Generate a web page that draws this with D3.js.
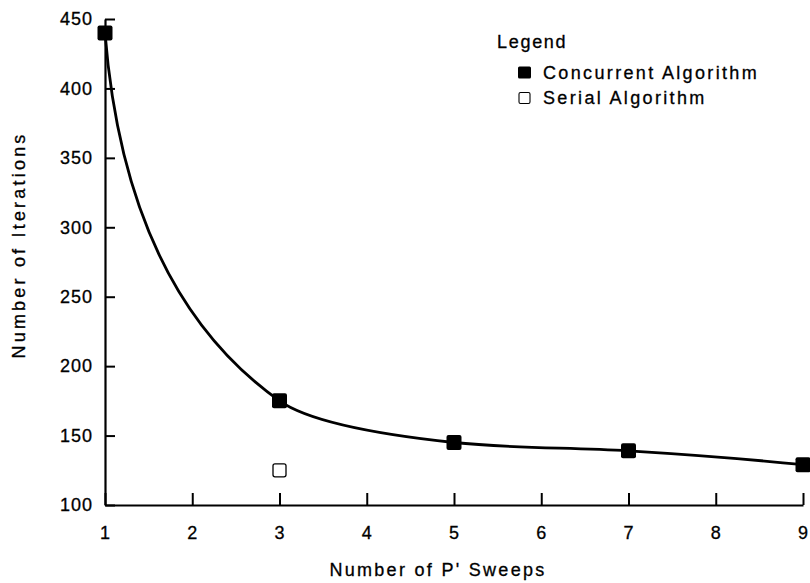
<!DOCTYPE html>
<html>
<head>
<meta charset="utf-8">
<script src="https://cdn.jsdelivr.net/npm/d3@7/dist/d3.min.js"></script>
<style>
  html, body { margin: 0; padding: 0; background: #fff; }
  svg { display: block; }
  text { font-family: "Liberation Sans", Arial, Helvetica, sans-serif; fill: #000; stroke: #000; stroke-width: 0.3px; }
</style>
</head>
<body>
<svg id="chart" width="810" height="583"></svg>
<script>
// Iterations needed versus the number of P' sweeps
const sweeps = [1, 3, 5, 7, 9];
const concurrentIterations = [440, 175, 145, 139, 129];
const serialSweeps = [3];
const serialIterations = [125];

const xTickValues = [1, 2, 3, 4, 5, 6, 7, 8, 9];
const yTickValues = [100, 150, 200, 250, 300, 350, 400, 450];

const legendTitle = "Legend";
const legendLabels = ["Concurrent Algorithm", "Serial Algorithm"];
const xTitle = "Number of P' Sweeps";
const yTitle = "Number of Iterations";

const svg = d3.select("#chart");

const x = d3.scaleLinear().domain([1, 9]).range([105, 803]);
const y = d3.scaleLinear().domain([100, 450]).range([505, 19]);

// Smooth curve: tangent-corner quadratic segments, with a steep lead-in
// at the first point and geometric-mean slopes at interior points.
function curveSweep(context) {
  const LEAD = 6;
  return {
    areaStart() {}, areaEnd() {},
    lineStart() { this._p = []; },
    point(px, py) { this._p.push([+px, +py]); },
    lineEnd() {
      const p = this._p, n = p.length, c = context;
      if (!n) return;
      c.moveTo(p[0][0], p[0][1]);
      if (n < 3) { for (let i = 1; i < n; i++) c.lineTo(p[i][0], p[i][1]); return; }
      const s = [];
      for (let i = 0; i < n - 1; i++) s.push((p[i + 1][1] - p[i][1]) / (p[i + 1][0] - p[i][0]));
      const m = new Array(n);
      for (let i = 1; i < n - 1; i++) {
        m[i] = s[i - 1] * s[i] > 0 ? Math.sign(s[i]) * Math.sqrt(s[i - 1] * s[i]) : 0;
      }
      m[0] = s[0] * LEAD;
      m[n - 1] = m[n - 2] !== 0 ? s[n - 2] * s[n - 2] / m[n - 2] : s[n - 2];
      for (let i = 0; i < n - 1; i++) {
        const A = p[i], B = p[i + 1], ma = m[i], mb = m[i + 1];
        if (Math.abs(ma - mb) > 1e-9) {
          const cx = (B[1] - A[1] + ma * A[0] - mb * B[0]) / (ma - mb);
          const cy = A[1] + ma * (cx - A[0]);
          if (cx > Math.min(A[0], B[0]) && cx < Math.max(A[0], B[0])) {
            c.quadraticCurveTo(cx, cy, B[0], B[1]);
            continue;
          }
        }
        const h = (B[0] - A[0]) / 3;
        c.bezierCurveTo(A[0] + h, A[1] + ma * h, B[0] - h, B[1] - mb * h, B[0], B[1]);
      }
    }
  };
}

// Axes
const xAxis = d3.axisBottom(x)
  .tickValues(xTickValues)
  .tickFormat(d3.format("d"))
  .tickSizeInner(-12)
  .tickSizeOuter(0)
  .tickPadding(21);

const yAxis = d3.axisLeft(y)
  .tickValues(yTickValues)
  .tickFormat(d3.format("d"))
  .tickSizeInner(-10)
  .tickSizeOuter(0)
  .tickPadding(13);

const gx = svg.append("g").attr("transform", `translate(0,${y(100)})`).call(xAxis);
const gy = svg.append("g").attr("transform", `translate(${x(1)},0)`).call(yAxis);

[gx, gy].forEach(g => {
  g.select(".domain").attr("stroke", "#000").attr("stroke-width", 2.2);
  g.selectAll(".tick line").attr("stroke", "#000").attr("stroke-width", 2);
  g.selectAll(".tick text")
    .attr("font-family", "Liberation Sans, Arial, sans-serif")
    .attr("font-size", 18)
    .attr("fill", "#000")
    .style("letter-spacing", "1px");
});
gy.selectAll(".tick text").attr("dx", "1px");

// Axis titles
svg.append("text")
  .attr("x", 438).attr("y", 576)
  .attr("text-anchor", "middle")
  .attr("font-size", 18)
  .style("letter-spacing", "2.3px")
  .text(xTitle);

svg.append("text")
  .attr("transform", "translate(25,245) rotate(-90)")
  .attr("text-anchor", "middle")
  .attr("font-size", 18)
  .style("letter-spacing", "3.2px")
  .text(yTitle);

// Concurrent algorithm curve
const line = d3.line()
  .x((d, i) => x(sweeps[i]))
  .y(d => y(d))
  .curve(curveSweep);

svg.append("path")
  .datum(concurrentIterations)
  .attr("fill", "none")
  .attr("stroke", "#000")
  .attr("stroke-width", 2.8)
  .attr("d", line);

const sq = 15;
svg.append("g").selectAll("rect")
  .data(concurrentIterations)
  .join("rect")
  .attr("x", (d, i) => x(sweeps[i]) - sq / 2)
  .attr("y", d => y(d) - sq / 2)
  .attr("width", sq).attr("height", sq)
  .attr("rx", 2)
  .attr("fill", "#000");

// Serial algorithm point
const osq = 13;
svg.append("g").selectAll("rect")
  .data(serialIterations)
  .join("rect")
  .attr("x", (d, i) => x(serialSweeps[i]) - osq / 2)
  .attr("y", d => y(d) - osq / 2)
  .attr("width", osq).attr("height", osq)
  .attr("rx", 2)
  .attr("fill", "#fff")
  .attr("stroke", "#000")
  .attr("stroke-width", 1.3);

// Legend
const lg = svg.append("g");
lg.append("text")
  .attr("x", 497).attr("y", 48)
  .attr("font-size", 18)
  .style("letter-spacing", "1.7px")
  .text(legendTitle);

legendLabels.forEach((label, i) => {
  const cy = 72.5 + i * 25;
  lg.append("rect")
    .attr("x", i === 0 ? 518 : 519)
    .attr("y", i === 0 ? cy - 6 : cy - 5)
    .attr("width", i === 0 ? 13 : 11)
    .attr("height", i === 0 ? 12 : 11)
    .attr("rx", 1.5)
    .attr("fill", i === 0 ? "#000" : "#fff")
    .attr("stroke", i === 0 ? "none" : "#000")
    .attr("stroke-width", 1.1);
  lg.append("text")
    .attr("x", 543).attr("y", cy + 6.5)
    .attr("font-size", 18)
    .style("letter-spacing", "2.35px")
    .text(label);
});
</script>
</body>
</html>
